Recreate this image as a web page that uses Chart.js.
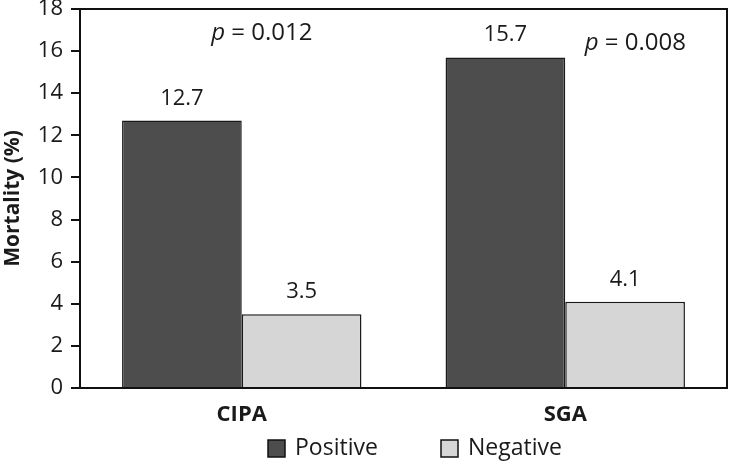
<!DOCTYPE html>
<html>
<head>
<meta charset="utf-8">
<script src="https://cdn.jsdelivr.net/npm/chart.js@4/dist/chart.umd.min.js"></script>
<style>
  html, body { margin: 0; padding: 0; background: #fff; }
  #wrap { width: 734px; height: 464px; }
</style>
</head>
<body>
<div id="wrap"><canvas id="chart" width="734" height="464"></canvas></div>
<script>
// Data
const categories = ["CIPA", "SGA"];
const positive = [12.7, 15.7];
const negative = [3.5, 4.1];
const seriesNames = ["Positive", "Negative"];
const pValues = ["0.012", "0.008"];
const pValueY = [16.55, 16.05];
const yMin = 0, yMax = 18, yStep = 2;

const FONT = "'Open Sans', 'Noto Sans', sans-serif";
const darkFill = "#4d4d4d";
const lightFill = "#d6d6d6";

// bar value labels, p values, frame, legend
const extras = {
  id: "extras",
  afterDatasetsDraw(chart) {
    const ctx = chart.ctx;
    const area = chart.chartArea;
    const x = chart.scales.x, y = chart.scales.y;

    // frame top/right
    ctx.save();
    ctx.strokeStyle = "#111";
    ctx.lineWidth = 2;
    ctx.beginPath();
    ctx.moveTo(area.left, area.top);
    ctx.lineTo(area.right, area.top);
    ctx.lineTo(area.right, area.bottom);
    ctx.stroke();

    // value labels
    ctx.fillStyle = "#1a1a1a";
    ctx.font = "22px " + FONT;
    ctx.textAlign = "center";
    ctx.textBaseline = "alphabetic";
    chart.data.datasets.forEach((ds, i) => {
      chart.getDatasetMeta(i).data.forEach((bar, j) => {
        ctx.fillText(ds.data[j].toFixed(1), bar.x, bar.y - 16);
      });
    });

    // p values
    const pOffset = [20, 70];
    pValues.forEach((p, i) => {
      const cx = x.getPixelForValue(i) + pOffset[i];
      const cy = y.getPixelForValue(pValueY[i]);
      ctx.font = "italic 24px " + FONT;
      const w1 = ctx.measureText("p").width;
      ctx.font = "24px " + FONT;
      const rest = " = " + p;
      const w2 = ctx.measureText(rest).width;
      const start = cx - (w1 + w2) / 2;
      ctx.textAlign = "left";
      ctx.font = "italic 24px " + FONT;
      ctx.fillText("p", start, cy);
      ctx.font = "24px " + FONT;
      ctx.fillText(rest, start + w1, cy);
    });

    // legend
    const legendX = [268, 441];
    const legendY = 440;
    chart.data.datasets.forEach((ds, i) => {
      ctx.fillStyle = ds.backgroundColor;
      ctx.fillRect(legendX[i], legendY, 17, 17);
      ctx.strokeStyle = "#111";
      ctx.lineWidth = 1.5;
      ctx.strokeRect(legendX[i], legendY, 17, 17);
      ctx.fillStyle = "#1a1a1a";
      ctx.font = "23px " + FONT;
      ctx.textAlign = "left";
      ctx.textBaseline = "middle";
      ctx.fillText(ds.label, legendX[i] + 27, legendY + 8);
      ctx.textBaseline = "alphabetic";
    });
    ctx.restore();
  }
};

new Chart(document.getElementById("chart"), {
  type: "bar",
  data: {
    labels: categories,
    datasets: [
      { label: seriesNames[0], data: positive, backgroundColor: darkFill, borderColor: "#1a1a1a", borderWidth: 1.5 },
      { label: seriesNames[1], data: negative, backgroundColor: lightFill, borderColor: "#1a1a1a", borderWidth: 1.5 }
    ]
  },
  options: {
    responsive: false,
    animation: false,
    layout: { padding: { top: 9, right: 7, left: 0, bottom: 30 } },
    datasets: { bar: { categoryPercentage: 0.74, barPercentage: 1 } },
    plugins: { legend: { display: false }, tooltip: { enabled: false } },
    scales: {
      x: {
        grid: { display: false, drawTicks: false },
        border: { color: "#111", width: 2 },
        ticks: { color: "#1a1a1a", font: { family: FONT, size: 22, weight: "bold" }, padding: 14 },
        afterFit(s) { s.height = 46; s.paddingLeft = 0; s.paddingRight = 0; }
      },
      y: {
        min: yMin, max: yMax,
        ticks: { stepSize: yStep, color: "#1a1a1a", font: { family: FONT, size: 22 }, padding: 8 },
        grid: { drawOnChartArea: false, drawTicks: true, tickLength: 9, color: "#111", lineWidth: 2 },
        border: { color: "#111", width: 2 },
        title: { display: true, text: "Mortality (%)", color: "#1a1a1a", font: { family: FONT, size: 21, weight: "bold" }, padding: { top: 0, bottom: 4 } },
        afterFit(s) { s.width = 80; s.paddingTop = 0; s.paddingBottom = 0; }
      }
    }
  },
  plugins: [extras]
});
</script>
</body>
</html>
